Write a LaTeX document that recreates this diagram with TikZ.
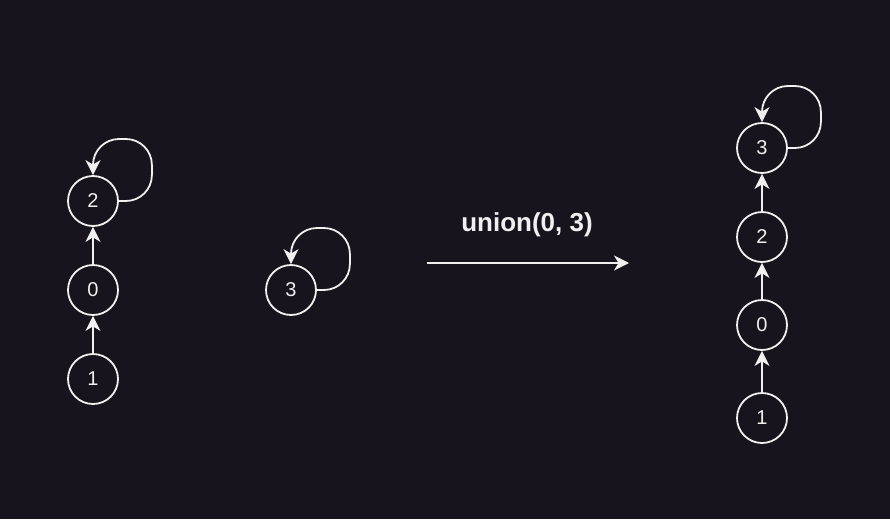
\documentclass[tikz,border=0pt]{standalone}
\usepackage{fontspec}
\setmainfont{Liberation Sans}
\usepackage{xcolor}
\usepackage{tikz}
\usetikzlibrary{arrows.meta, positioning}

\definecolor{bgdark}{HTML}{18141D}
\definecolor{inklight}{HTML}{F0F0F0}

\begin{document}
\begin{tikzpicture}[x=1pt, y=-1pt,
    >={Stealth[length=15pt, width=15pt, inset=4.5pt]},
    elem/.style={circle, draw=inklight, line width=1.8pt, fill=bgdark,
        minimum size=50pt, inner sep=0pt, text=inklight,
        font=\fontsize{20}{20}\selectfont},
    link/.style={->, draw=inklight, line width=1.8pt},
    selfloop/.style={link, rounded corners=26pt}]

    % =================================================================
    % 1. BACKGROUND (fixes the picture size)
    % =================================================================
    \fill[bgdark] (0,0) rectangle (890,519);

    % =================================================================
    % 2. BEFORE: TWO SEPARATE TREES
    % =================================================================
    % Tree with root 2
    \node[elem] (l2) at (93,201) {2};
    \node[elem] (l0) at (93,290) {0};
    \node[elem] (l1) at (93,379) {1};

    % Tree with root 3 (single element)
    \node[elem] (m3) at (291,290) {3};

    % =================================================================
    % 3. THE UNION OPERATION ARROW
    % =================================================================
    \coordinate (opstart) at (427,263);
    \coordinate (opend) at (629,263);
    \draw[link] (opstart) -- (opend);
    \node[text=inklight, font=\fontsize{26}{26}\selectfont\bfseries] (oplabel) at (527,225) {union(0, 3)};

    % =================================================================
    % 4. AFTER: ONE MERGED TREE
    % =================================================================
    \node[elem] (r3) at (762,148) {3};
    \node[elem] (r2) at (762,237) {2};
    \node[elem] (r0) at (762,325) {0};
    \node[elem] (r1) at (762,418) {1};

    % =================================================================
    % 5. PARENT LINKS (child -> parent)
    % =================================================================
    \draw[link] (l1) -- (l0);
    \draw[link] (l0) -- (l2);

    \draw[link] (r1) -- (r0);
    \draw[link] (r0) -- (r2);
    \draw[link] (r2) -- (r3);

    % Roots point to themselves
    \draw[selfloop] (l2.east) -| ++(33,-62) -| (l2.north);
    \draw[selfloop] (m3.east) -| ++(33,-62) -| (m3.north);
    \draw[selfloop] (r3.east) -| ++(33,-62) -| (r3.north);

\end{tikzpicture}
\end{document}
